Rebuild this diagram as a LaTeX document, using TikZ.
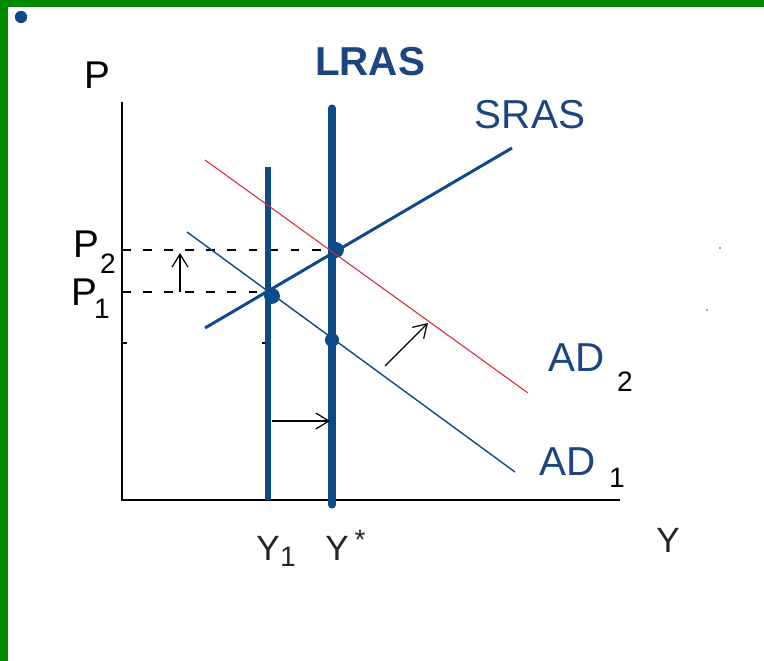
\documentclass[tikz,border=0pt]{standalone}
\usepackage{fontspec}
\setmainfont{Liberation Sans}
\usepackage{tikz}
\usetikzlibrary{arrows.meta,positioning,calc}
\definecolor{frame}{HTML}{018A01}
\definecolor{navy}{HTML}{0D4A8A}
\definecolor{navytext}{HTML}{1C4680}
\definecolor{adred}{HTML}{D42A34}
\tikzset{
  curve/.style={draw=navy,line width=#1},
  curve/.default=0.8pt,
  lrline/.style={draw=navy,line width=#1},
  lbl/.style={text=navytext,font=\fontsize{23}{23}\selectfont,inner sep=0pt},
  axl/.style={text=black,font=\fontsize{22}{22}\selectfont,inner sep=0pt},
  yl/.style={text=black!85,font=\fontsize{20}{20}\selectfont,inner sep=0pt},
  subl/.style={text=black,font=\fontsize{16}{16}\selectfont,inner sep=0pt},
  pt/.style={circle,fill=navy,inner sep=0pt,minimum size=#1},
  pt/.default=9pt,
  shiftarr/.style={-{Straight Barb[length=2.6mm,width=3.2mm]},line width=0.7pt,black},
  guide/.style={black,line width=0.7pt,dash pattern=on 5pt off 7pt},
}
\begin{document}
\begin{tikzpicture}[x=0.02cm,y=-0.02cm]
  \useasboundingbox (0,0) rectangle (764,661);
  \fill[frame] (0,0) rectangle (764,661);
  \fill[white] (8,7) rectangle (764,661);
  \node[pt=7pt] (bul) at (21,17) {};
  \fill[black!70] (720,248) circle (0.8) (707,310) circle (0.8);
  % axes
  \coordinate (o) at (122,500);
  \coordinate (ptop) at (122,102);
  \coordinate (yend) at (620,500);
  \draw[black,line width=1.1pt] (ptop) -- (o) -- (yend);
  \node[axl] (plab) at (97,75) {P};
  \node[yl] (ylab) at (668,540) {Y};
  % price levels
  \coordinate (ptwo) at (122,250);
  \coordinate (pone) at (122,292);
  \node[pt] (e2) at (336,250) {};
  \node[pt] (e1) at (272,296) {};
  \node[pt=8pt] (e0) at (332,340) {};
  \draw[guide] (ptwo) -- (e2.west);
  \draw[guide] (pone) -- (268,292);
  \draw[black,line width=0.7pt] (122,343) -- (127,343) (262,343) -- (267,343);
  \node[axl] (p2) at (86,244) {P};
  \node[subl] (p2s) at (108,264) {2};
  \node[axl] (p1) at (84,292) {P};
  \node[subl] (p1s) at (102,309) {1};
  % LRAS and Y1
  \coordinate (lrtop) at (332,108);
  \coordinate (lrbot) at (332,505);
  \coordinate (yonetop) at (268,167);
  \coordinate (yonebot) at (268,500);
  \draw[lrline=4pt,line cap=round] (lrtop) -- (lrbot);
  \draw[lrline=3.4pt] (yonetop) -- (yonebot);
  \node[lbl,font=\fontsize{23}{23}\selectfont\bfseries] (lras) at (370,62) {LRAS};
  % SRAS
  \coordinate (sa) at (205,328);
  \coordinate (sb) at (512,148);
  \draw[curve=1.7pt] (sa) -- (sb);
  \node[lbl] (sras) at (530,115) {SRAS};
  % AD curves
  \coordinate (ada) at (187,232);
  \coordinate (adb) at (515,472);
  \draw[curve=0.8pt] (ada) -- (adb);
  \coordinate (adc) at (205,160);
  \coordinate (add) at (528,393);
  \draw[adred,line width=0.6pt] (adc) -- (add);
  \node[lbl] (ad2) at (577,358) {AD};
  \node[subl] (ad2s) at (625,382) {2};
  \node[lbl] (ad1) at (568,462) {AD};
  \node[subl] (ad1s) at (617,478) {1};
  % shifts
  \coordinate (ya) at (272,421);
  \coordinate (yb) at (330,421);
  \draw[shiftarr] (ya) -- (yb);
  \coordinate (adfrom) at (385,366);
  \coordinate (adto) at (428,323);
  \draw[shiftarr] (adfrom) -- (adto);
  \coordinate (pfrom) at (180,292);
  \coordinate (pto) at (180,253);
  \draw[shiftarr] (pfrom) -- (pto);
  % output labels
  \node[yl] (yone) at (268,548) {Y};
  \node[subl,text=black!85] (yones) at (288,557) {1};
  \node[yl] (ystar) at (337,548) {Y};
  \node[subl,text=black!85] (ystars) at (360,540) {*};
\end{tikzpicture}
\end{document}
